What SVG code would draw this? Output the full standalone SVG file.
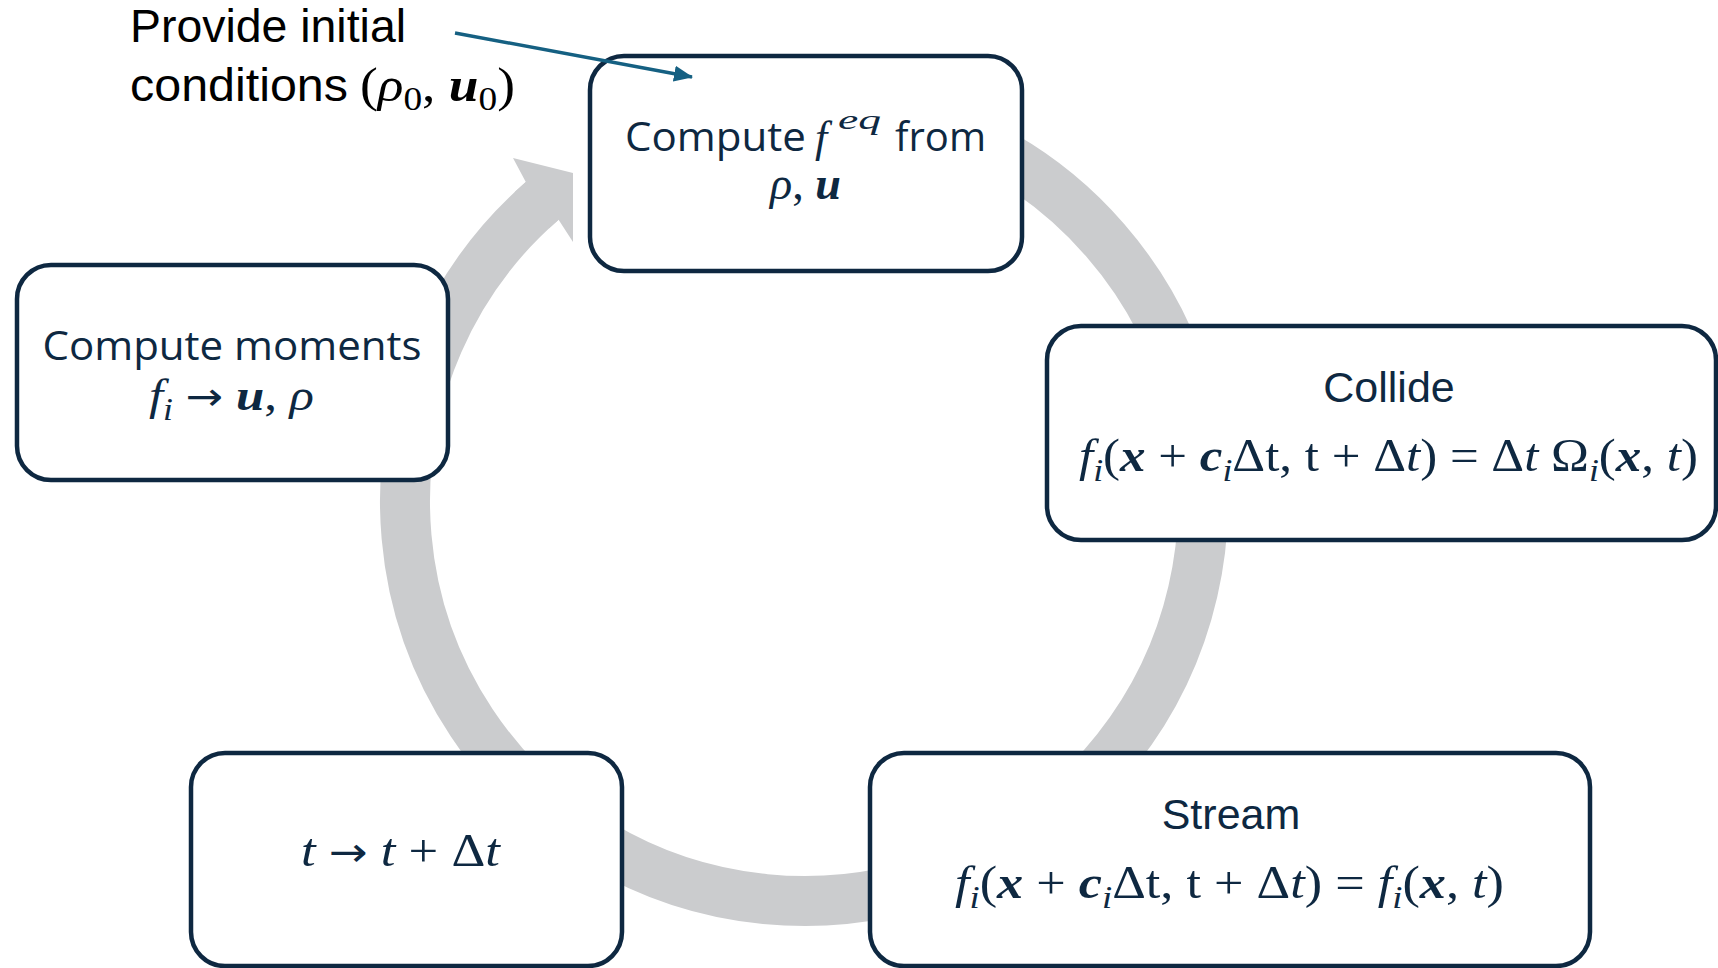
<svg xmlns="http://www.w3.org/2000/svg" width="1718" height="968" viewBox="0 0 1718 968">
  <defs>
    <style>
      .box { fill: #ffffff; stroke: #0E2841; stroke-width: 4.5; }
      .sans { font-family: "Open Sans", "Noto Sans", sans-serif; fill: #0E2841; }
      .narrow { font-family: "Liberation Sans", Arial, sans-serif; fill: #0E2841; }
      .math { font-family: "Liberation Serif", "DejaVu Serif", serif; fill: #0E2841; }
      .it { font-style: italic; }
      .bi { font-style: italic; font-weight: bold; }
      .sub { font-size: 70%; }
      .arrow { font-family: "DejaVu Sans", sans-serif; font-size: 88%; }
      .ring { fill: none; stroke: #CBCCCE; stroke-width: 50; }
      .pointer { fill: none; stroke: #156082; stroke-width: 3.5; }
    </style>
    <marker id="ptr-head" markerUnits="userSpaceOnUse" markerWidth="20" markerHeight="18" viewBox="0 0 20 18" refX="18" refY="9" orient="auto">
      <path d="M0,1 L19,9 L0,17 Z" fill="#156082"/>
    </marker>
  </defs>

  <rect width="1718" height="968" fill="#ffffff"/>

  <!-- grey cycle arrow running clockwise behind the step boxes -->
  <g id="cycle-arrow">
    <path class="ring" d="M 769.2 104.5 A 399 399 0 1 1 542.2 200.9"/>
    <polygon fill="#CBCCCE" points="514.8,191.9 525.8,182 513,158 573,173 573,242 558.6,219.7 548.9,228.5"/>
  </g>

  <!-- step: equilibrium -->
  <g id="node-equilibrium">
    <rect class="box" x="590" y="56" width="432" height="215" rx="34"/>
    <text class="sans" x="625" y="151" font-size="41" textLength="181" lengthAdjust="spacingAndGlyphs">Compute</text>
    <text class="math it" x="815" y="152" font-size="44">f</text>
    <text class="math it" x="838" y="129" font-size="28" textLength="43" lengthAdjust="spacingAndGlyphs">eq</text>
    <text class="sans" x="895" y="151" font-size="41" textLength="91" lengthAdjust="spacingAndGlyphs">from</text>
    <text class="math" x="770" y="199" font-size="46" textLength="71" lengthAdjust="spacingAndGlyphs"><tspan class="it">ρ</tspan>, <tspan class="bi">u</tspan></text>
  </g>

  <!-- step: collide -->
  <g id="node-collide">
    <rect class="box" x="1047" y="326" width="669" height="214" rx="34"/>
    <text class="narrow" x="1389" y="402" font-size="43" text-anchor="middle">Collide</text>
    <text class="math" x="1079" y="471" font-size="46" textLength="619" lengthAdjust="spacingAndGlyphs"><tspan class="it">f</tspan><tspan class="it sub" dy="10">i</tspan><tspan dy="-10">(</tspan><tspan class="bi">x</tspan> + <tspan class="bi">c</tspan><tspan class="it sub" dy="10">i</tspan><tspan dy="-10">Δt, t + Δ</tspan><tspan class="it">t</tspan>) = Δ<tspan class="it">t</tspan> Ω<tspan class="it sub" dy="10">i</tspan><tspan dy="-10">(</tspan><tspan class="bi">x</tspan>, <tspan class="it">t</tspan>)</text>
  </g>

  <!-- step: stream -->
  <g id="node-stream">
    <rect class="box" x="870" y="753" width="720" height="213" rx="34"/>
    <text class="narrow" x="1231" y="829" font-size="43" text-anchor="middle">Stream</text>
    <text class="math" x="955" y="898" font-size="46" textLength="549" lengthAdjust="spacingAndGlyphs"><tspan class="it">f</tspan><tspan class="it sub" dy="10">i</tspan><tspan dy="-10">(</tspan><tspan class="bi">x</tspan> + <tspan class="bi">c</tspan><tspan class="it sub" dy="10">i</tspan><tspan dy="-10">Δt, t + Δ</tspan><tspan class="it">t</tspan>) = <tspan class="it">f</tspan><tspan class="it sub" dy="10">i</tspan><tspan dy="-10">(</tspan><tspan class="bi">x</tspan>, <tspan class="it">t</tspan>)</text>
  </g>

  <!-- step: advance time -->
  <g id="node-time">
    <rect class="box" x="191" y="753" width="431" height="213" rx="34"/>
    <text class="math" x="301" y="866" font-size="46" textLength="199" lengthAdjust="spacingAndGlyphs"><tspan class="it">t</tspan> <tspan class="arrow">→</tspan> <tspan class="it">t</tspan> + Δ<tspan class="it">t</tspan></text>
  </g>

  <!-- step: moments -->
  <g id="node-moments">
    <rect class="box" x="17" y="265" width="431" height="215" rx="34"/>
    <text class="sans" x="232" y="360" font-size="40" text-anchor="middle" textLength="379" lengthAdjust="spacingAndGlyphs">Compute moments</text>
    <text class="math" x="149" y="410" font-size="44" textLength="165" lengthAdjust="spacingAndGlyphs"><tspan class="it">f</tspan><tspan class="it sub" dy="10">i</tspan><tspan dy="-10"> </tspan><tspan class="arrow">→</tspan> <tspan class="bi">u</tspan>, <tspan class="it">ρ</tspan></text>
  </g>

  <!-- initial conditions label -->
  <g id="node-initial">
    <text x="130" y="42" font-family="Liberation Sans, Arial, sans-serif" font-size="46" fill="#000000" textLength="276" lengthAdjust="spacingAndGlyphs">Provide initial</text>
    <text x="130" y="101" font-family="Liberation Sans, Arial, sans-serif" font-size="46" fill="#000000" textLength="218" lengthAdjust="spacingAndGlyphs">conditions</text>
    <text x="360" y="101" font-family="Liberation Serif, DejaVu Serif, serif" font-size="48" fill="#000000" textLength="155" lengthAdjust="spacingAndGlyphs">(<tspan font-style="italic">ρ</tspan><tspan font-size="70%" dy="9">0</tspan><tspan dy="-9">, </tspan><tspan font-style="italic" font-weight="bold">u</tspan><tspan font-size="70%" dy="9">0</tspan><tspan dy="-9">)</tspan></text>
  </g>

  <g id="connectors">
    <line class="pointer" x1="455" y1="33" x2="692" y2="77" marker-end="url(#ptr-head)"/>
  </g>
</svg>
